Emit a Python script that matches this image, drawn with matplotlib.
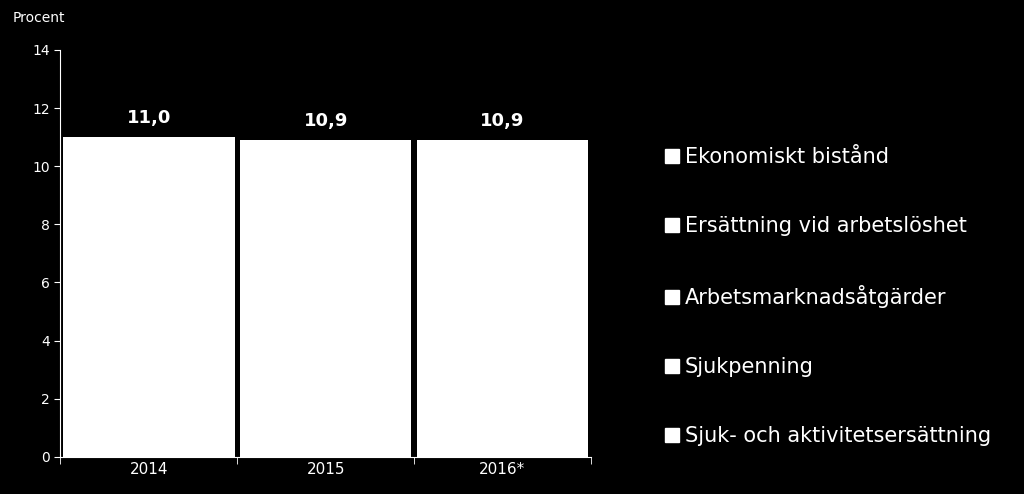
import matplotlib
matplotlib.use("Agg")
import matplotlib.pyplot as plt
import numpy as np
from matplotlib.lines import Line2D

years = ["2014", "2015", "2016*"]
series = ["Sjuk- och aktivitetsersättning", "Sjukpenning", "Arbetsmarknadsåtgärder",
          "Ersättning vid arbetslöshet", "Ekonomiskt bistånd"]
sjuk_akt = [2.8, 2.7, 2.6]
sjukpenning = [2.3, 2.6, 2.9]
arbmarknad = [2.3, 2.3, 2.2]
arbetsloshet = [2.1, 1.9, 1.8]
ekbistand = [1.5, 1.4, 1.4]
totals = [11.0, 10.9, 10.9]
values = [sjuk_akt, sjukpenning, arbmarknad, arbetsloshet, ekbistand]

fig = plt.figure(figsize=(10.24, 4.94), dpi=100, facecolor="black")
ax = fig.add_axes([0.059, 0.075, 0.518, 0.824], facecolor="black")
x = np.arange(len(years))
bottom = np.zeros(3)
for name, v in zip(series, values):
    ax.bar(x, v, bottom=bottom, width=0.97, color="white", edgecolor="none")
    bottom += np.array(v)
for xi, t in zip(x, totals):
    ax.text(xi, t + 0.35, f"{t:.1f}".replace(".", ","), ha="center", va="bottom",
            color="white", fontsize=13, fontweight="bold")
ax.set_xlim(-0.5, 2.5)
ax.set_ylim(0, 14)
ax.set_yticks(range(0, 15, 2))
ax.set_xticks(x)
ax.set_xticklabels(years)
ax.set_xticks([-0.5, 0.5, 1.5, 2.5], minor=True)
ax.tick_params(axis="x", which="major", length=0, colors="white", labelsize=11)
ax.tick_params(axis="x", which="minor", length=5, color="white", direction="out")
ax.tick_params(axis="y", colors="white", labelsize=10, length=4)
for s in ["top", "right"]:
    ax.spines[s].set_visible(False)
for s in ["left", "bottom"]:
    ax.spines[s].set_color("white")
fig.text(0.012, 0.955, "Procent", color="white", fontsize=10)

handles = [Line2D([], [], marker="s", color="white", linestyle="none", markersize=10) for _ in series]
leg = fig.legend(handles[::-1], series[::-1], loc="center left", bbox_to_anchor=(0.628, 0.40),
                 frameon=False, fontsize=15, labelspacing=2.35, handletextpad=0.1,
                 handlelength=1.0, labelcolor="white")
fig.savefig("out.png", dpi=100, facecolor="black")
